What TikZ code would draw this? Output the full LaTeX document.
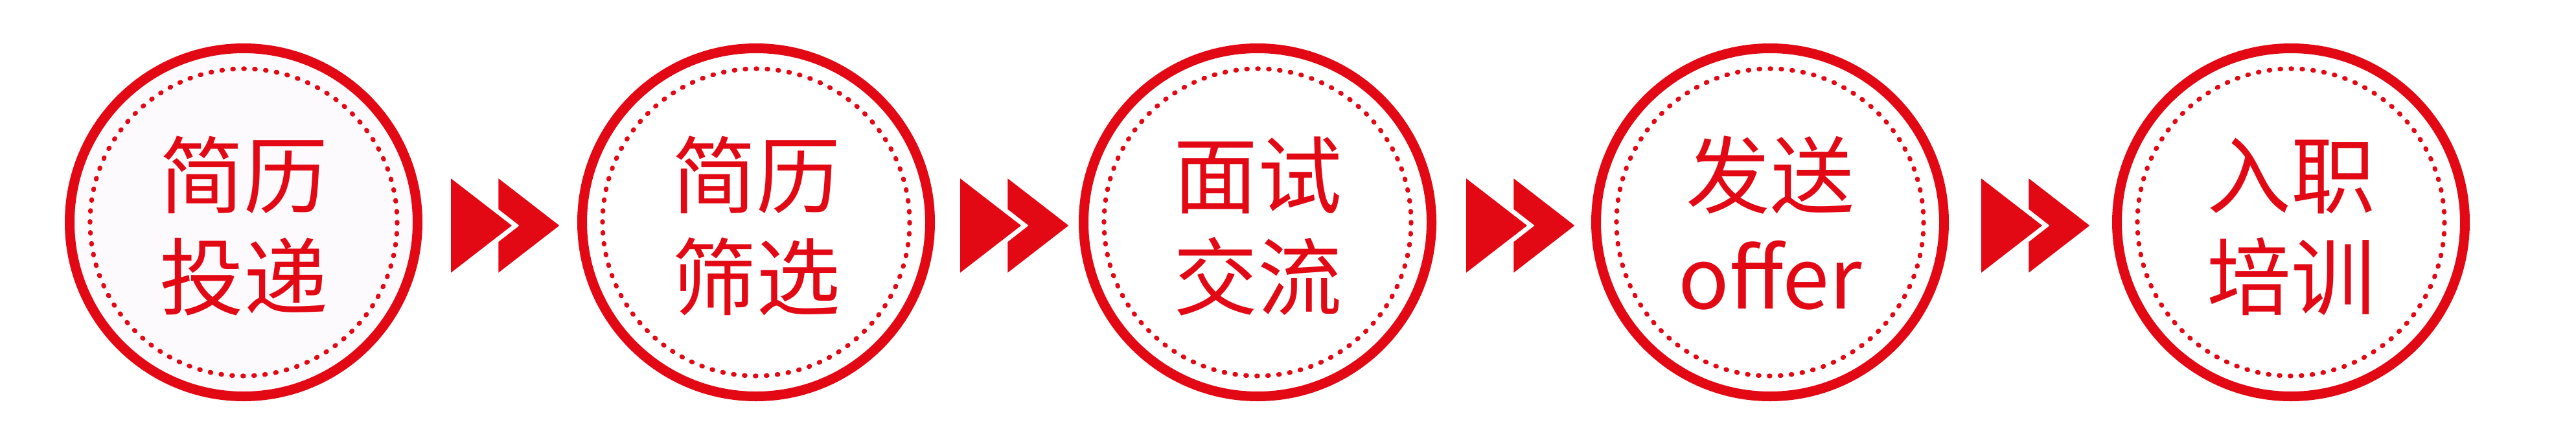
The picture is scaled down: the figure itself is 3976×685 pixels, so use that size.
\documentclass[tikz,border=0pt]{standalone}
\usepackage{fontspec}
\newfontfamily\cjk{Noto Sans CJK SC}
\definecolor{brand}{RGB}{226,8,20}
\definecolor{pinkfill}{RGB}{253,250,253}
\tikzset{
  ring/.style={circle, draw=brand, line width=15pt, minimum size=537pt, inner sep=0pt},
  dotring/.style={draw=brand, line width=7.2pt, line cap=round, dash pattern=on 1.4pt off 15.522pt},
  lbl/.style={anchor=base, inner sep=0pt, text=brand, font=\cjk\fontsize{130}{157}\selectfont},
  ffarrow/.pic={
    \fill[brand] (0,-72.7) -- (94,0) -- (0,72.7) -- cycle;
    \fill[brand] (73.3,-72.7) -- (167.3,0) -- (73.3,72.7) -- (73.3,25.3) -- (105.7,0) -- (73.3,-25.3) -- cycle;
  }
}
\begin{document}
\begin{tikzpicture}[x=1pt,y=-1pt]
\useasboundingbox (0,0) rectangle (3976,685);
\fill[white] (0,0) rectangle (3976,685);
% circles
\node[ring, fill=pinkfill] (c1) at (376,343) {};
\node[ring] (c2) at (1167,343) {};
\node[ring] (c3) at (1941,343) {};
\node[ring] (c4) at (2732,343) {};
\node[ring] (c5) at (3536,343) {};
\foreach \c in {c1,c2,c3,c4,c5}{
  \draw[dotring] (\c.center) circle[radius=237];
}
% labels
\node[lbl] (t1a) at (376,319) {简历};
\node[lbl] (t1b) at (376,476) {投递};
\node[lbl] (t2a) at (1167,319) {简历};
\node[lbl] (t2b) at (1167,476) {筛选};
\node[lbl] (t3a) at (1941,319) {面试};
\node[lbl] (t3b) at (1941,476) {交流};
\node[lbl] (t4a) at (2732,319) {发送};
\node[lbl] (t4b) at (2732,476) {offer};
\node[lbl] (t5a) at (3536,319) {入职};
\node[lbl] (t5b) at (3536,476) {培训};
% arrows
\pic at (696,348) {ffarrow};
\pic at (1482,348) {ffarrow};
\pic at (2263,348) {ffarrow};
\pic at (3058,348) {ffarrow};
\end{tikzpicture}
\end{document}
